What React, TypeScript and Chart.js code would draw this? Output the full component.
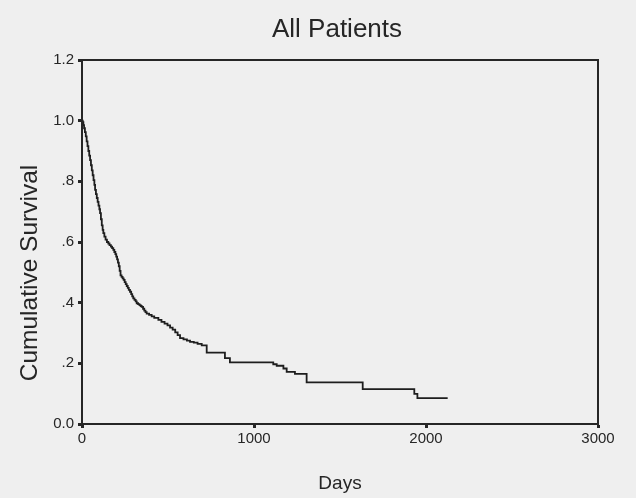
import React, { useEffect, useRef } from "react";
import { Chart, registerables } from "chart.js";

Chart.register(...registerables);

const chartTitle = "All Patients";
const xAxisLabel = "Days";
const yAxisLabel = "Cumulative Survival";

// Kaplan-Meier drop points: day and survival after the drop
const days = [
  0, 4, 8, 12, 17, 22, 27, 32, 37, 42, 47, 52, 57, 62, 67, 72, 76, 81, 86, 91,
  96, 101, 105, 110, 115, 120, 124, 130, 137, 145, 153, 160, 168, 175, 182,
  188, 194, 199, 204, 209, 214, 219, 224, 230, 236, 242, 248, 254, 260, 266,
  272, 279, 286, 292, 298, 305, 312, 318, 326, 334, 341, 347, 355, 362, 369,
  376, 390, 405, 420, 444, 462, 480, 497, 512, 527, 542, 556, 570, 590, 610,
  628, 650, 672, 696, 725, 831, 860, 1112, 1132, 1171, 1190, 1238, 1306, 1632,
  1932, 1950, 2126,
];
const survival = [
  1.0, 0.995, 0.985, 0.975, 0.962, 0.948, 0.932, 0.916, 0.9, 0.885, 0.87,
  0.853, 0.836, 0.82, 0.804, 0.788, 0.772, 0.758, 0.745, 0.732, 0.72, 0.708,
  0.695, 0.675, 0.655, 0.64, 0.629, 0.618, 0.608, 0.6, 0.595, 0.59, 0.585,
  0.58, 0.574, 0.567, 0.56, 0.552, 0.543, 0.532, 0.52, 0.505, 0.49, 0.485,
  0.48, 0.475, 0.468, 0.461, 0.455, 0.449, 0.442, 0.436, 0.428, 0.421, 0.414,
  0.409, 0.404, 0.398, 0.395, 0.392, 0.389, 0.386, 0.38, 0.374, 0.369, 0.364,
  0.36, 0.355, 0.35, 0.343, 0.337, 0.331, 0.325, 0.318, 0.311, 0.302, 0.293,
  0.283, 0.279, 0.275, 0.271, 0.268, 0.264, 0.259, 0.235, 0.217, 0.203,
  0.197, 0.192, 0.183, 0.172, 0.165, 0.137, 0.115, 0.099, 0.085, 0.085,
];
const xTicks = [0, 1000, 2000, 3000];
const yTicks = [0, 0.2, 0.4, 0.6, 0.8, 1.0, 1.2];

const FONT = '"Liberation Sans", Arial, sans-serif';
const INK = "#262626";

export default function App() {
  const ref = useRef<HTMLCanvasElement | null>(null);

  useEffect(() => {
    if (!ref.current) return;
    const textPlugin = {
      id: "textAndFrame",
      afterDraw(chart: any) {
        const { ctx, chartArea } = chart;
        ctx.save();
        ctx.strokeStyle = INK;
        ctx.lineWidth = 2;
        ctx.strokeRect(chartArea.left, chartArea.top, chartArea.right - chartArea.left, chartArea.bottom - chartArea.top);
        ctx.fillStyle = INK;
        ctx.textAlign = "center";
        ctx.textBaseline = "middle";
        ctx.font = `26px ${FONT}`;
        ctx.fillText(chartTitle, 337, 30);
        ctx.font = `19px ${FONT}`;
        ctx.fillText(xAxisLabel, 340, 484);
        ctx.translate(30, 273);
        ctx.rotate(-Math.PI / 2);
        ctx.font = `24.5px ${FONT}`;
        ctx.fillText(yAxisLabel, 0, 0);
        ctx.restore();
      },
    };

    const chart = new Chart(ref.current, {
      type: "line",
      data: {
        datasets: [
          {
            data: days.map((d, i) => ({ x: d, y: survival[i] })),
            borderColor: "#1e1e1e",
            borderWidth: 1.8,
            pointRadius: 0,
            stepped: "before",
            fill: false,
          },
        ],
      },
      options: {
        animation: false,
        responsive: false,
        layout: { padding: { top: 60, right: 38, left: 0, bottom: 0 } },
        plugins: { legend: { display: false }, tooltip: { enabled: false } },
        scales: {
          x: {
            type: "linear",
            min: 0,
            max: 3000,
            afterBuildTicks: (s: any) => {
              s.ticks = xTicks.map((v) => ({ value: v }));
            },
            afterFit: (s: any) => {
              s.height = 74;
            },
            ticks: {
              font: { family: FONT, size: 15 },
              color: INK,
              padding: 2,
              maxRotation: 0,
              callback: (v: any) => String(Number(v)),
            },
            grid: {
              drawOnChartArea: false,
              drawTicks: true,
              tickLength: 4,
              tickWidth: 3,
              tickColor: INK,
            },
            border: { display: true, color: INK, width: 2 },
          },
          y: {
            type: "linear",
            min: 0,
            max: 1.2,
            afterBuildTicks: (s: any) => {
              s.ticks = yTicks.map((v) => ({ value: v }));
            },
            afterFit: (s: any) => {
              s.width = 82;
            },
            ticks: {
              font: { family: FONT, size: 15 },
              color: INK,
              padding: 4,
              callback: (v: any) => {
                const n = Number(v);
                if (n === 0) return "0.0";
                if (n >= 1) return n.toFixed(1);
                return n.toFixed(1).replace(/^0/, "");
              },
            },
            grid: {
              drawOnChartArea: false,
              drawTicks: true,
              tickLength: 4,
              tickWidth: 3,
              tickColor: INK,
            },
            border: { display: true, color: INK, width: 2 },
          },
        },
      },
      plugins: [textPlugin],
    } as any);
    return () => chart.destroy();
  }, []);

  return (
    <div style={{ position: "fixed", left: 0, top: 0, width: 636, height: 498, background: "#efefef" }}>
      <canvas ref={ref} width={636} height={498} style={{ display: "block" }} />
    </div>
  );
}
